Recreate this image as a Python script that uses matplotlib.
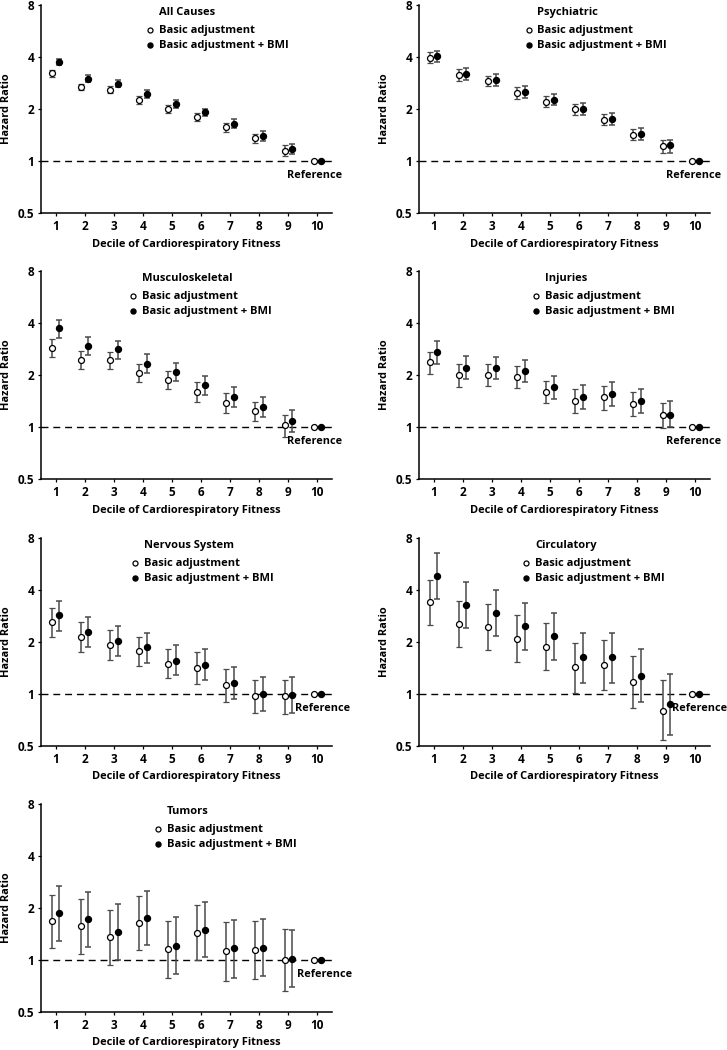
import matplotlib
matplotlib.use("Agg")
import matplotlib.pyplot as plt
import numpy as np

plt.rcParams['font.family'] = ['Open Sans', 'DejaVu Sans']
plt.rcParams['font.weight'] = 'bold'

deciles = np.arange(1, 11)
titles = ["All Causes", "Psychiatric", "Musculoskeletal", "Injuries",
          "Nervous System", "Circulatory", "Tumors"]

# hazard ratios (deciles 1-9, decile 10 is the reference = 1)
basic = [
    [3.22, 2.68, 2.58, 2.26, 2.00, 1.80, 1.57, 1.35, 1.15],
    [3.96, 3.15, 2.91, 2.46, 2.21, 1.99, 1.73, 1.42, 1.22],
    [2.87, 2.43, 2.43, 2.05, 1.88, 1.59, 1.38, 1.24, 1.03],
    [2.37, 1.99, 2.01, 1.95, 1.60, 1.42, 1.49, 1.36, 1.17],
    [2.60, 2.14, 1.92, 1.77, 1.50, 1.42, 1.13, 0.98, 0.97],
    [3.42, 2.55, 2.44, 2.09, 1.88, 1.43, 1.47, 1.18, 0.80],
    [1.68, 1.57, 1.35, 1.64, 1.16, 1.44, 1.13, 1.15, 1.00],
]
basic_lo = [
    [3.08, 2.56, 2.46, 2.15, 1.90, 1.71, 1.48, 1.27, 1.07],
    [3.68, 2.91, 2.70, 2.28, 2.05, 1.85, 1.61, 1.32, 1.11],
    [2.55, 2.16, 2.16, 1.83, 1.65, 1.40, 1.20, 1.08, 0.88],
    [2.04, 1.70, 1.73, 1.68, 1.37, 1.20, 1.26, 1.16, 0.99],
    [2.14, 1.75, 1.57, 1.45, 1.23, 1.15, 0.90, 0.78, 0.77],
    [2.50, 1.87, 1.79, 1.53, 1.37, 1.02, 1.05, 0.83, 0.54],
    [1.17, 1.09, 0.94, 1.14, 0.79, 1.00, 0.76, 0.78, 0.66],
]
basic_hi = [
    [3.37, 2.80, 2.70, 2.38, 2.10, 1.89, 1.66, 1.43, 1.24],
    [4.27, 3.40, 3.12, 2.68, 2.38, 2.15, 1.87, 1.54, 1.32],
    [3.25, 2.74, 2.72, 2.32, 2.12, 1.81, 1.58, 1.40, 1.18],
    [2.72, 2.31, 2.33, 2.26, 1.85, 1.65, 1.73, 1.59, 1.37],
    [3.14, 2.60, 2.35, 2.15, 1.83, 1.74, 1.39, 1.21, 1.21],
    [4.58, 3.47, 3.32, 2.85, 2.56, 1.98, 2.05, 1.66, 1.20],
    [2.39, 2.25, 1.96, 2.36, 1.68, 2.08, 1.66, 1.68, 1.52],
]
bmi = [
    [3.75, 3.00, 2.80, 2.44, 2.15, 1.91, 1.64, 1.40, 1.18],
    [4.03, 3.20, 2.94, 2.51, 2.26, 2.01, 1.75, 1.44, 1.23],
    [3.73, 2.95, 2.81, 2.33, 2.09, 1.75, 1.49, 1.31, 1.09],
    [2.72, 2.21, 2.20, 2.12, 1.71, 1.49, 1.55, 1.42, 1.18],
    [2.85, 2.29, 2.03, 1.86, 1.55, 1.47, 1.16, 1.00, 0.99],
    [4.84, 3.28, 2.96, 2.46, 2.16, 1.63, 1.63, 1.27, 0.87],
    [1.87, 1.72, 1.45, 1.75, 1.21, 1.50, 1.17, 1.18, 1.02],
]
bmi_lo = [
    [3.59, 2.87, 2.67, 2.32, 2.04, 1.81, 1.55, 1.31, 1.10],
    [3.72, 2.95, 2.72, 2.31, 2.10, 1.85, 1.62, 1.33, 1.11],
    [3.29, 2.60, 2.49, 2.05, 1.85, 1.54, 1.30, 1.15, 0.93],
    [2.33, 1.90, 1.90, 1.82, 1.46, 1.27, 1.33, 1.21, 1.00],
    [2.33, 1.88, 1.66, 1.52, 1.28, 1.20, 0.93, 0.80, 0.78],
    [3.55, 2.41, 2.16, 1.80, 1.57, 1.16, 1.16, 0.90, 0.58],
    [1.29, 1.19, 1.00, 1.22, 0.83, 1.04, 0.79, 0.81, 0.70],
]
bmi_hi = [
    [3.92, 3.14, 2.94, 2.57, 2.27, 2.01, 1.74, 1.49, 1.26],
    [4.35, 3.45, 3.17, 2.70, 2.44, 2.17, 1.89, 1.56, 1.33],
    [4.19, 3.33, 3.15, 2.64, 2.36, 1.98, 1.71, 1.50, 1.25],
    [3.16, 2.58, 2.55, 2.45, 1.98, 1.75, 1.81, 1.65, 1.42],
    [3.46, 2.80, 2.48, 2.26, 1.91, 1.81, 1.44, 1.25, 1.25],
    [6.52, 4.47, 4.00, 3.38, 2.95, 2.26, 2.26, 1.81, 1.30],
    [2.69, 2.48, 2.10, 2.52, 1.78, 2.16, 1.70, 1.72, 1.49],
]

# where the legend block and the "Reference" label sit in each panel
legend_x = [0.375, 0.377, 0.317, 0.403, 0.323, 0.369, 0.403]
ref_x = [9.9, 9.93, 9.9, 9.93, 10.16, 10.15, 10.24]

fig = plt.figure(figsize=(7.27, 10.5), dpi=100)
lefts = [41 / 727, 419 / 727]
bottoms = [1 - 213 / 1050, 1 - 479 / 1050, 1 - 746 / 1050, 1 - 1012 / 1050]
w, h = 291 / 727, 208 / 1050

fs_tick = 8.5
fs_lab = 7.9
fs_leg = 8.0
fs_ref = 7.8
off = 0.13
ebar_col = '#4a4a4a'

for i, title in enumerate(titles):
    ax = fig.add_axes([lefts[i % 2], bottoms[i // 2], w, h])
    y0 = np.append(basic[i], 1.0)
    y1 = np.append(bmi[i], 1.0)
    e0 = np.array([np.append(np.array(basic[i]) - np.array(basic_lo[i]), 0),
                   np.append(np.array(basic_hi[i]) - np.array(basic[i]), 0)])
    e1 = np.array([np.append(np.array(bmi[i]) - np.array(bmi_lo[i]), 0),
                   np.append(np.array(bmi_hi[i]) - np.array(bmi[i]), 0)])

    ax.axhline(1, color='black', lw=1, ls=(0, (5, 3.5)), zorder=1)
    ax.errorbar(deciles - off, y0, yerr=e0, fmt='o', mfc='white', mec='black',
                mew=0.9, ms=4.3, ecolor=ebar_col, elinewidth=1.1, capsize=2.3,
                capthick=1.1, zorder=3)
    ax.errorbar(deciles + off, y1, yerr=e1, fmt='o', mfc='black', mec='black',
                ms=4.3, ecolor=ebar_col, elinewidth=1.1, capsize=2.3,
                capthick=1.1, zorder=3)

    ax.annotate('Reference', xy=(ref_x[i], 1), xytext=(0, -10.5),
                textcoords='offset points', ha='center', va='center',
                fontsize=fs_ref, fontweight='bold', annotation_clip=False)

    ax.set_yscale('log')
    ax.set_ylim(0.5, 8)
    ax.set_xlim(0.5, 10.5)
    ax.set_yticks([0.5, 1, 2, 4, 8])
    ax.set_yticklabels(['0.5', '1', '2', '4', '8'])
    ax.yaxis.set_minor_locator(matplotlib.ticker.NullLocator())
    ax.set_xticks(deciles)
    ax.tick_params(axis='both', labelsize=fs_tick, length=2.5, width=0.9,
                   pad=2.5, colors='black')
    for lab in ax.get_xticklabels() + ax.get_yticklabels():
        lab.set_fontweight('bold')
    for s in ['top', 'right']:
        ax.spines[s].set_visible(False)
    for s in ['left', 'bottom']:
        ax.spines[s].set_linewidth(1.1)
    ax.set_ylabel('Hazard Ratio', fontsize=fs_lab, fontweight='bold', labelpad=4)
    ax.set_xlabel('Decile of Cardiorespiratory Fitness', fontsize=fs_lab,
                  fontweight='bold', labelpad=4)

    # legend block: bold panel title, then the two series keys
    lx = legend_x[i]
    tx = lx + 0.03
    ax.text(tx, 0.965, title, transform=ax.transAxes, fontsize=fs_leg,
            fontweight='bold', va='center', ha='left')
    ax.plot([lx], [0.879], transform=ax.transAxes, marker='o', ls='none',
            mfc='white', mec='black', mew=0.9, ms=3.6, clip_on=False)
    ax.plot([lx], [0.806], transform=ax.transAxes, marker='o', ls='none',
            mfc='black', mec='black', ms=3.6, clip_on=False)
    ax.text(tx, 0.879, 'Basic adjustment', transform=ax.transAxes,
            fontsize=fs_leg, fontweight='bold', va='center', ha='left')
    ax.text(tx, 0.806, 'Basic adjustment + BMI', transform=ax.transAxes,
            fontsize=fs_leg, fontweight='bold', va='center', ha='left')

fig.savefig('out.png', dpi=100)
